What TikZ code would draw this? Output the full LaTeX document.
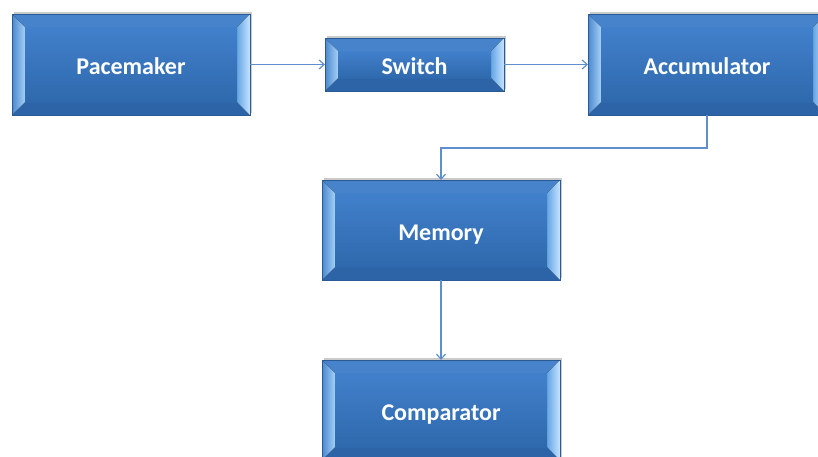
\documentclass[tikz,border=0pt]{standalone}
\usepackage{fontspec}
\setmainfont{Carlito}
\usetikzlibrary{shadows,arrows.meta,calc}
\definecolor{bdr}{HTML}{2A5A94}
\definecolor{faceT}{HTML}{4180CB}
\definecolor{faceB}{HTML}{2F69AD}
\definecolor{bevLo}{HTML}{4A88CF}
\definecolor{bevLi}{HTML}{A6D0F6}
\definecolor{bevRo}{HTML}{C6E4FF}
\definecolor{bevRi}{HTML}{66A5E4}
\definecolor{bevT}{HTML}{4683CB}
\definecolor{bevB}{HTML}{2D64A7}
\definecolor{arr}{HTML}{5E8FCC}
\newcommand\lowtext[1]{\raisebox{-10pt}[0pt][0pt]{#1}}
\tikzset{
  bev/.style 2 args={rectangle, draw=bdr, line width=0.8pt, outer sep=0pt, inner sep=0pt,
    minimum width=#1, minimum height=#2, text=white,
    font=\fontsize{24}{28}\selectfont\bfseries,
    top color=faceT, bottom color=faceB,
    drop shadow={opacity=0.35, shadow xshift=1.5pt, shadow yshift=2.5pt, fill=black!60},
    path picture={
      \coordinate (NW) at (path picture bounding box.north west);
      \coordinate (NE) at (path picture bounding box.north east);
      \coordinate (SW) at (path picture bounding box.south west);
      \coordinate (SE) at (path picture bounding box.south east);
      \fill[bevT] (NW) -- (NE) -- ($(NE)+(-13pt,-13pt)$) -- ($(NW)+(13pt,-13pt)$) -- cycle;
      \fill[bevB] (SW) -- (SE) -- ($(SE)+(-13pt,13pt)$) -- ($(SW)+(13pt,13pt)$) -- cycle;
      \fill[left color=bevLo, right color=bevLi] (NW) -- ($(NW)+(13pt,-13pt)$) -- ($(SW)+(13pt,13pt)$) -- (SW) -- cycle;
      \fill[left color=bevRi, right color=bevRo] (NE) -- ($(NE)+(-13pt,-13pt)$) -- ($(SE)+(-13pt,13pt)$) -- (SE) -- cycle;
      \fill[top color=faceT, bottom color=faceB] ($(NW)+(13pt,-13pt)$) rectangle ($(SE)+(-13pt,13pt)$);
    }},
  conn/.style={draw=arr, line width=1.2pt, -{Straight Barb[length=5pt,width=9pt]}}
}
\begin{document}
\begin{tikzpicture}[x=1pt,y=-1pt]
\useasboundingbox (0,0) rectangle (818,456);
\clip (0,0) rectangle (818,456);
\node[bev={238pt}{101pt}] (pace) at (131,64.5) {\lowtext{Pacemaker}};
\node[bev={179pt}{53pt}] (sw) at (414.5,64.5) {\lowtext{Switch}};
\node[bev={238pt}{101pt}] (acc) at (707,64.5) {\lowtext{Accumulator}};
\node[bev={238pt}{100pt}] (mem) at (441,230) {\lowtext{Memory}};
\node[bev={238pt}{100pt}] (comp) at (441,410) {\lowtext{Comparator}};
\coordinate (turn) at (707,148);
\draw[conn] (pace) -- (sw);
\draw[conn] (sw) -- (acc);
\draw[conn] (acc.south) -- (turn) -| (mem.north);
\draw[conn] (mem.south) -- (comp.north);
\end{tikzpicture}
\end{document}
